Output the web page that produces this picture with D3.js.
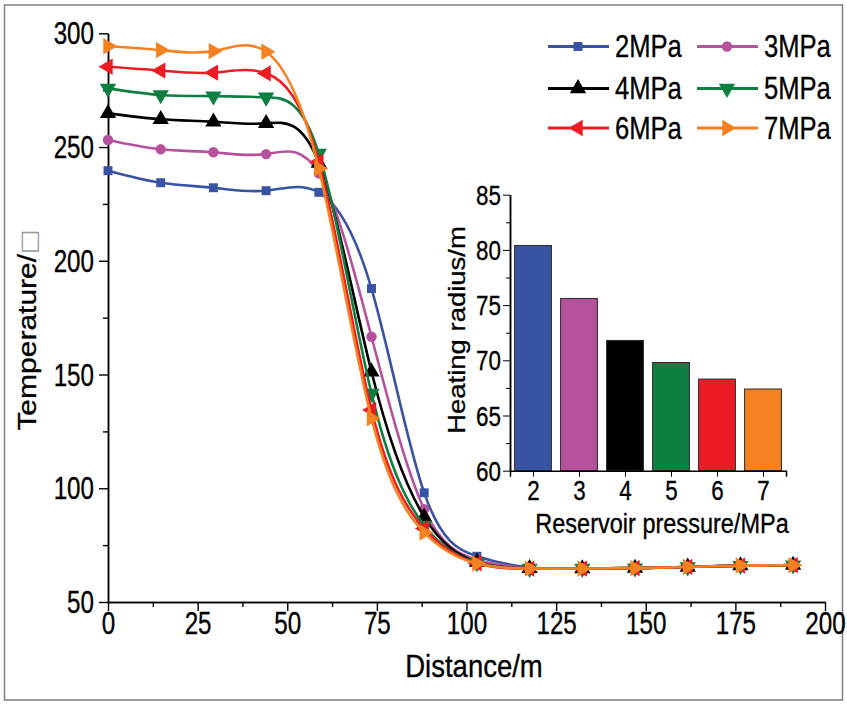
<!DOCTYPE html>
<html><head><meta charset="utf-8">
<script src="https://cdn.jsdelivr.net/npm/d3@7"></script>
<style>body{margin:0;background:#fff}svg{display:block}text{font-family:"Liberation Sans",Arial,sans-serif;stroke:#000;stroke-width:0.35px}</style>
</head><body>
<script>
const distance = [0,14.7,29.4,44.1,58.8,73.5,88.2,102.9,117.6,132.3,147,161.7,176.4,191.1];
const t2MPa = [239.6,234.3,232.1,230.8,230.1,187.8,98.0,70.1,65.2,64.8,64.9,65.4,66.0,66.2];
const t3MPa = [253.1,249.0,247.7,246.9,238.4,166.6,90.8,68.6,64.9,64.7,64.9,65.4,66.0,66.2];
const t4MPa = [264.8,262.2,261.1,260.4,243.0,151.2,87.4,67.6,64.8,64.7,64.9,65.4,66.0,66.2];
const t5MPa = [275.8,272.9,272.4,271.9,247.2,141.7,83.6,67.2,64.7,64.7,64.9,65.4,66.0,66.2];
const t6MPa = [285.3,283.6,282.7,282.4,243.5,134.4,82.3,67.0,64.7,64.7,64.9,65.4,66.0,66.2];
const t7MPa = [294.3,292.6,292.2,291.9,240.6,130.7,80.5,66.9,64.7,64.7,64.9,65.4,66.0,66.2];
const seriesNames = ["2MPa","3MPa","4MPa","5MPa","6MPa","7MPa"];
const seriesColors = ["#3953a4","#b6519b","#000000","#0d7f40","#ed1c24","#f58220"];
const xTicks = [0,25,50,75,100,125,150,175,200];
const yTicks = [50,100,150,200,250,300];
const pressures = [2,3,4,5,6,7];
const heatingRadius = [80.4,75.6,71.8,69.8,68.3,67.4];
const insetYTicks = [60,65,70,75,80,85];

const series = [t2MPa,t3MPa,t4MPa,t5MPa,t6MPa,t7MPa];
const W = 847, H = 704;
const svg = d3.select("body").append("svg").attr("width",W).attr("height",H);

// outer frame
svg.append("rect").attr("x",4.5).attr("y",5).attr("width",838).attr("height",695)
  .attr("fill","none").attr("stroke","#808080").attr("stroke-width",1.5);

const x = d3.scaleLinear().domain([0,200]).range([108,825]);
const y = d3.scaleLinear().domain([50,300]).range([602,33.3]);

function squeezeText(sel, sx){
  sel.each(function(){
    const t = d3.select(this);
    const xv = +t.attr("x")||0;
    t.attr("x", xv/sx).attr("transform", `scale(${sx},1)`);
  });
}

// main axes
const gx = svg.append("g").attr("transform",`translate(0,${y(50)})`)
  .call(d3.axisBottom(x).tickValues(xTicks).tickSize(9).tickSizeOuter(0).tickPadding(6));
svg.append("g").attr("transform",`translate(0,${y(50)})`)
  .call(d3.axisBottom(x).tickValues(d3.range(12.5,200,25)).tickSize(5).tickSizeOuter(0).tickFormat(""));
const gy = svg.append("g").attr("transform",`translate(${x(0)},0)`)
  .call(d3.axisLeft(y).tickValues(yTicks).tickSize(9).tickSizeOuter(0).tickPadding(6));
svg.append("g").attr("transform",`translate(${x(0)},0)`)
  .call(d3.axisLeft(y).tickValues(d3.range(75,300,50)).tickSize(5).tickSizeOuter(0).tickFormat(""));
svg.selectAll(".domain").attr("stroke-width",1.6);
svg.selectAll(".tick line").attr("stroke-width",1.4);
gx.selectAll("text").attr("font-size",31).attr("fill","#000").attr("dy","0.71em").attr("y",10);
squeezeText(gx.selectAll("text"),0.78);
gy.selectAll("text").attr("font-size",31).attr("fill","#000").attr("dy","0.34em").attr("x",-14);
squeezeText(gy.selectAll("text"),0.78);

// axis titles
svg.append("text").attr("transform",`translate(474,677) scale(0.86,1)`)
  .attr("text-anchor","middle").attr("font-size",32).text("Distance/m");
const yt = svg.append("text").attr("transform",`translate(36,330) scale(0.86,1) rotate(-90)`)
  .attr("text-anchor","middle").attr("font-size",30);
yt.append("tspan").text("Temperature/");
yt.append("tspan").attr("fill","#9a9a9a").attr("stroke","none").attr("font-family","DejaVu Sans").attr("font-size",26).text("□");

// symbols
const symDefs = [
  {type:d3.symbolSquare,size:80,rot:0},
  {type:d3.symbolCircle,size:85,rot:0},
  {type:d3.symbolTriangle,size:115,rot:0},
  {type:d3.symbolTriangle,size:115,rot:180},
  {type:d3.symbolTriangle,size:115,rot:-90},
  {type:d3.symbolTriangle,size:115,rot:90}
];

const line = d3.line().x((d,i)=>x(distance[i])).y(d=>y(d)).curve(d3.curveNatural);
series.forEach((s,k)=>{
  const g = svg.append("g");
  g.append("path").attr("d",line(s)).attr("fill","none").attr("stroke",seriesColors[k]).attr("stroke-width",2.6);
  g.selectAll("path.m").data(s).join("path").attr("class","m")
    .attr("d",d3.symbol().type(symDefs[k].type).size(symDefs[k].size))
    .attr("transform",(d,i)=>`translate(${x(distance[i])},${y(d)}) rotate(${symDefs[k].rot})`)
    .attr("fill",seriesColors[k]);
});

// legend
const legCols = [548, 697];
const legRows = [46.5, 88.5, 128];
seriesNames.forEach((n,k)=>{
  const lx = legCols[k%2], ly = legRows[Math.floor(k/2)];
  const g = svg.append("g");
  g.append("line").attr("x1",lx).attr("x2",lx+61).attr("y1",ly).attr("y2",ly)
    .attr("stroke",seriesColors[k]).attr("stroke-width",3);
  g.append("path").attr("d",d3.symbol().type(symDefs[k].type).size(symDefs[k].size))
    .attr("transform",`translate(${lx+30},${ly}) rotate(${symDefs[k].rot})`).attr("fill",seriesColors[k]);
  g.append("text").attr("transform",`translate(${lx+67},${ly+10.5}) scale(0.8,1)`)
    .attr("font-size",32).text(n);
});

// inset bar chart
const ix = d3.scaleLinear().domain([1.5,7.5]).range([510,786]);
const iy = d3.scaleLinear().domain([60,85]).range([470.7,194.7]);
const bw = ix(2.4)-ix(1.6);
svg.append("g").selectAll("rect").data(heatingRadius).join("rect")
  .attr("x",(d,i)=>ix(pressures[i]-0.4)).attr("width",bw)
  .attr("y",d=>iy(d)).attr("height",d=>iy(60)-iy(d))
  .attr("fill",(d,i)=>seriesColors[i]).attr("stroke","#2a2a2a").attr("stroke-width",1);
const igx = svg.append("g").attr("transform",`translate(0,${iy(60)})`)
  .call(d3.axisBottom(ix).tickValues(pressures).tickFormat(d3.format("d")).tickSize(6).tickSizeOuter(6).tickPadding(4));
const igy = svg.append("g").attr("transform",`translate(${ix(1.5)},0)`)
  .call(d3.axisLeft(iy).tickValues(insetYTicks).tickSize(7).tickSizeOuter(0).tickPadding(4));
svg.append("g").attr("transform",`translate(${ix(1.5)},0)`)
  .call(d3.axisLeft(iy).tickValues(d3.range(62.5,85,5)).tickSize(4).tickSizeOuter(0).tickFormat(""));
svg.selectAll(".domain").attr("stroke-width",1.5);
igx.selectAll("text").attr("font-size",28).attr("fill","#000").attr("dy","0.71em").attr("y",9);
squeezeText(igx.selectAll("text"),0.8);
igy.selectAll("text").attr("font-size",28).attr("fill","#000").attr("dy","0.34em").attr("x",-9);
squeezeText(igy.selectAll("text"),0.8);

svg.append("text").attr("transform",`translate(662,533) scale(0.84,1)`)
  .attr("text-anchor","middle").attr("font-size",28).text("Reservoir pressure/MPa");
svg.append("text").attr("transform",`translate(465,330) scale(0.86,1) rotate(-90)`)
  .attr("text-anchor","middle").attr("font-size",27.5).text("Heating radius/m");
</script>
</body></html>
